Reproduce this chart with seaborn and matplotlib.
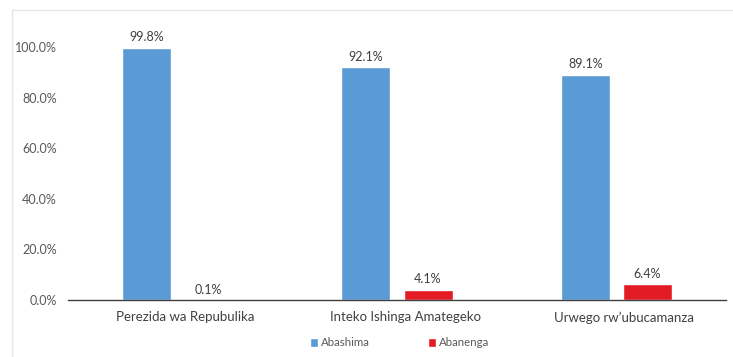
import matplotlib
matplotlib.use("Agg")
import matplotlib.pyplot as plt
import matplotlib.transforms as mtransforms
import seaborn as sns
import pandas as pd
from matplotlib.patches import Rectangle

categories = ["Perezida wa Repubulika", "Inteko Ishinga Amategeko", "Urwego rw’ubucamanza"]
series_names = ["Abashima", "Abanenga"]
abashima = [0.998, 0.921, 0.891]
abanenga = [0.001, 0.041, 0.064]
yticks = [0.0, 0.2, 0.4, 0.6, 0.8, 1.0]

rows = []
for c, a, b in zip(categories, abashima, abanenga):
    rows.append({"cat": c, "series": series_names[0], "val": a})
    rows.append({"cat": c, "series": series_names[1], "val": b})
df = pd.DataFrame(rows)

sns.set_theme(style="white")
plt.rcParams["font.family"] = ["Lato", "DejaVu Sans"]

fig = plt.figure(figsize=(7.33, 3.57), dpi=100)
ax = fig.add_axes([68/733, 1-300/357, (726-68)/733, (300-47)/357])

palette = {"Abashima": "#5B9BD5", "Abanenga": "#E31B23"}
sns.barplot(data=df, x="cat", y="val", hue="series", order=categories,
            hue_order=series_names, palette=palette, width=0.566, gap=0.21,
            saturation=1, ax=ax, legend=True)

ax.set_ylim(0, 1.0)
ax.set_xlim(-0.5, 2.5)
ax.set_yticks(yticks)
ax.set_yticklabels([f"{t*100:.1f}%" for t in yticks], color="#595959", fontsize=9)
ax.tick_params(axis="x", labelsize=9.5, colors="#404040", length=0, pad=8)
ax.tick_params(axis="y", length=0, pad=8)
ax.set_xlabel("")
ax.set_ylabel("")
for s in ["top", "right", "left"]:
    ax.spines[s].set_visible(False)
ax.spines["bottom"].set_color("#404040")
ax.spines["bottom"].set_linewidth(1.0)

offset = mtransforms.ScaledTranslation(8/100, 0, fig.dpi_scale_trans)
for lab in ax.get_xticklabels():
    lab.set_transform(lab.get_transform() + offset)

for cont in ax.containers:
    labels = [f"{v*100:.1f}%" for v in cont.datavalues]
    ax.bar_label(cont, labels=labels, padding=3, fontsize=9, color="#404040", clip_on=False)

handles, labs = ax.get_legend_handles_labels()
ax.get_legend().remove()
fig.legend(handles, labs, loc="center", bbox_to_anchor=(0.545, 1-343/357), ncol=2,
           frameon=False, fontsize=8.3, handlelength=0.7, handleheight=0.7,
           handletextpad=0.3, columnspacing=5, labelcolor="#595959")

fig.patches.append(Rectangle((12/733, -0.1), 1.2, 1-10/357+0.1, transform=fig.transFigure,
                             fill=False, edgecolor="#E6E6E6", linewidth=1.0, zorder=-1))

fig.savefig("out.png", dpi=100)
